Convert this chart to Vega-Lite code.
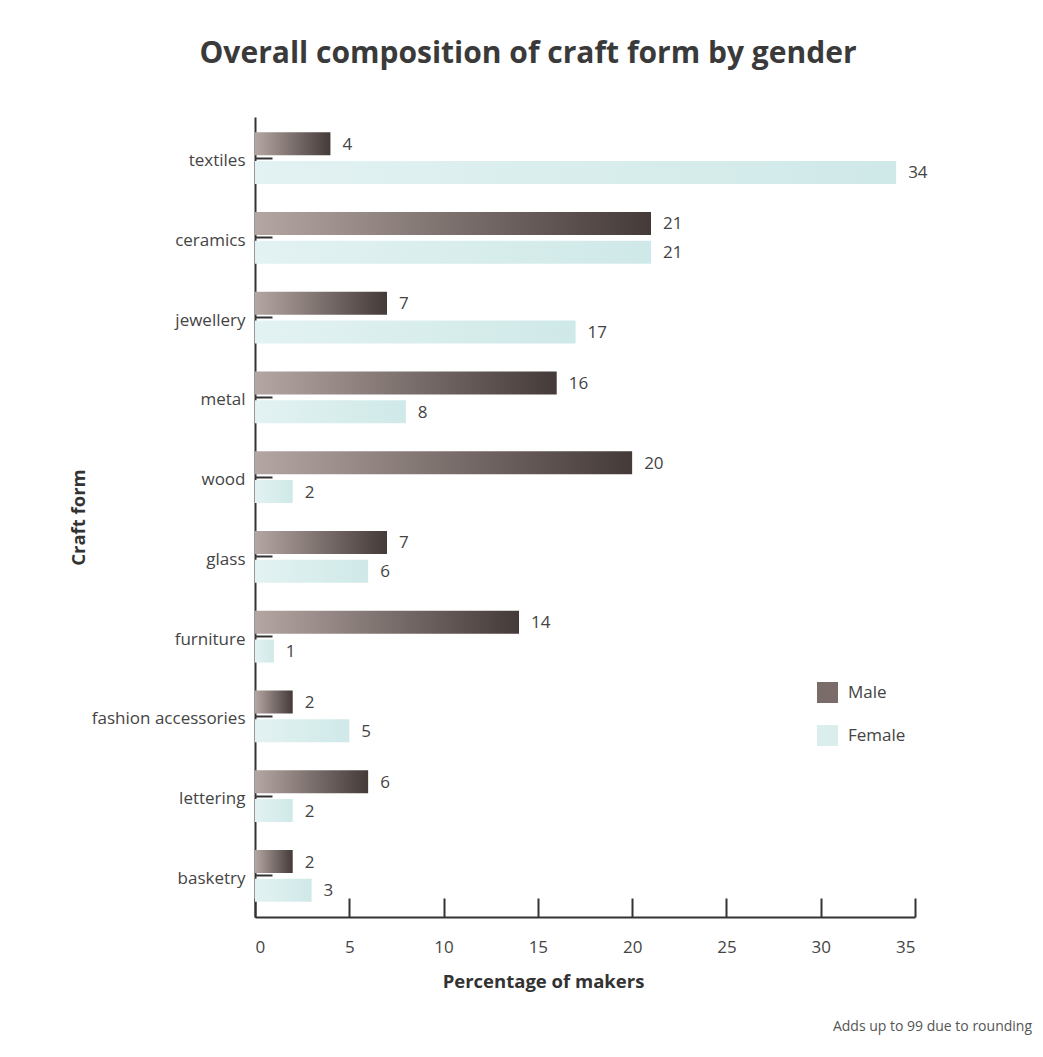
{
  "$schema": "https://vega.github.io/schema/vega-lite/v6.json",
  "width": 660,
  "height": 800,
  "autosize": {"type": "none"},
  "padding": {"left": 255, "top": 117, "right": 128, "bottom": 140},
  "background": "white",
  "config": {"view": {"stroke": null}},
  "title": {
    "text": "Overall composition of craft form by gender",
    "font": "Open Sans",
    "fontSize": 30,
    "fontWeight": "bold",
    "color": "#3a3a3a",
    "anchor": "middle",
    "dx": -57,
    "offset": 48
  },
  "data": {
    "values": [
      {"craft": "textiles", "gender": "Male", "pct": 4},
      {"craft": "textiles", "gender": "Female", "pct": 34},
      {"craft": "ceramics", "gender": "Male", "pct": 21},
      {"craft": "ceramics", "gender": "Female", "pct": 21},
      {"craft": "jewellery", "gender": "Male", "pct": 7},
      {"craft": "jewellery", "gender": "Female", "pct": 17},
      {"craft": "metal", "gender": "Male", "pct": 16},
      {"craft": "metal", "gender": "Female", "pct": 8},
      {"craft": "wood", "gender": "Male", "pct": 20},
      {"craft": "wood", "gender": "Female", "pct": 2},
      {"craft": "glass", "gender": "Male", "pct": 7},
      {"craft": "glass", "gender": "Female", "pct": 6},
      {"craft": "furniture", "gender": "Male", "pct": 14},
      {"craft": "furniture", "gender": "Female", "pct": 1},
      {"craft": "fashion accessories", "gender": "Male", "pct": 2},
      {"craft": "fashion accessories", "gender": "Female", "pct": 5},
      {"craft": "lettering", "gender": "Male", "pct": 6},
      {"craft": "lettering", "gender": "Female", "pct": 2},
      {"craft": "basketry", "gender": "Male", "pct": 2},
      {"craft": "basketry", "gender": "Female", "pct": 3}
    ]
  },
  "layer": [
    {
      "mark": {"type": "bar"},
      "encoding": {
        "y": {
          "field": "craft",
          "type": "nominal",
          "sort": ["textiles", "ceramics", "jewellery", "metal", "wood", "glass", "furniture", "fashion accessories", "lettering", "basketry"],
          "scale": {"paddingInner": 0.35, "paddingOuter": 0.19},
          "title": "Craft form",
          "axis": {
            "domainColor": "#333333",
            "domainWidth": 2,
            "tickColor": "#333333",
            "tickWidth": 2,
            "tickSize": -17,
            "labelPadding": 27,
            "labelOffset": 3,
            "labelFont": "Open Sans",
            "labelFontSize": 17,
            "labelColor": "#444444",
            "titleFont": "Open Sans",
            "titleFontSize": 18.5,
            "titleFontWeight": "bold",
            "titleColor": "#333333",
            "titlePadding": 3,
            "grid": false
          }
        },
        "yOffset": {
          "field": "gender",
          "type": "nominal",
          "sort": ["Male", "Female"],
          "scale": {"paddingInner": 0.2, "paddingOuter": 0}
        },
        "x": {
          "field": "pct",
          "type": "quantitative",
          "scale": {"domain": [0, 35], "nice": false},
          "title": "Percentage of makers",
          "axis": {
            "values": [0, 5, 10, 15, 20, 25, 30, 35],
            "domainColor": "#333333",
            "domainWidth": 2,
            "tickColor": "#333333",
            "tickWidth": 2,
            "tickSize": -19,
            "labelPadding": 41,
            "labelFont": "Open Sans",
            "labelFontSize": 17,
            "labelColor": "#444444",
            "titleFont": "Open Sans",
            "titleFontSize": 18.5,
            "titleFontWeight": "bold",
            "titleColor": "#333333",
            "titlePadding": 17,
            "titleX": 288,
            "grid": false
          }
        },
        "fill": {
          "condition": {
            "test": "datum.gender === 'Male'",
            "value": {"gradient": "linear", "x1": 0, "x2": 1, "y1": 0, "y2": 0, "stops": [{"offset": 0, "color": "#b4a6a3"}, {"offset": 1, "color": "#443a38"}]}
          },
          "value": {"gradient": "linear", "x1": 0, "x2": 1, "y1": 0, "y2": 0, "stops": [{"offset": 0, "color": "#e3f2f2"}, {"offset": 1, "color": "#cfe9e8"}]}
        }
      }
    },
    {
      "mark": {"type": "bar", "opacity": 0},
      "encoding": {
        "y": {"field": "craft", "type": "nominal", "sort": ["textiles", "ceramics", "jewellery", "metal", "wood", "glass", "furniture", "fashion accessories", "lettering", "basketry"]},
        "yOffset": {"field": "gender", "type": "nominal", "sort": ["Male", "Female"]},
        "x": {"field": "pct", "type": "quantitative"},
        "color": {
          "field": "gender",
          "type": "nominal",
          "scale": {"domain": ["Male", "Female"], "range": ["#7a6c69", "#d9eeed"]},
          "legend": {
            "orient": "none",
            "legendX": 562,
            "legendY": 565,
            "title": null,
            "padding": 0,
            "labelFont": "Open Sans",
            "labelFontSize": 17,
            "labelColor": "#444444",
            "labelOffset": 10,
            "symbolType": "square",
            "symbolSize": 441,
            "symbolStrokeWidth": 0,
            "symbolOpacity": 1,
            "rowPadding": 22
          }
        }
      }
    },
    {
      "mark": {"type": "text", "align": "left", "baseline": "middle", "dx": 12, "dy": 1, "font": "Open Sans", "fontSize": 17, "color": "#444444"},
      "encoding": {
        "y": {"field": "craft", "type": "nominal", "sort": ["textiles", "ceramics", "jewellery", "metal", "wood", "glass", "furniture", "fashion accessories", "lettering", "basketry"]},
        "yOffset": {"field": "gender", "type": "nominal", "sort": ["Male", "Female"]},
        "x": {"field": "pct", "type": "quantitative"},
        "text": {"field": "pct", "type": "quantitative"}
      }
    },
    {
      "data": {"values": [{"note": "Adds up to 99 due to rounding"}]},
      "mark": {"type": "text", "align": "right", "baseline": "middle", "dx": 117, "dy": 110, "font": "Open Sans", "fontSize": 14, "color": "#555555"},
      "encoding": {
        "x": {"datum": 35, "type": "quantitative"},
        "y": {"value": "height"},
        "text": {"field": "note", "type": "nominal"}
      }
    }
  ]
}
